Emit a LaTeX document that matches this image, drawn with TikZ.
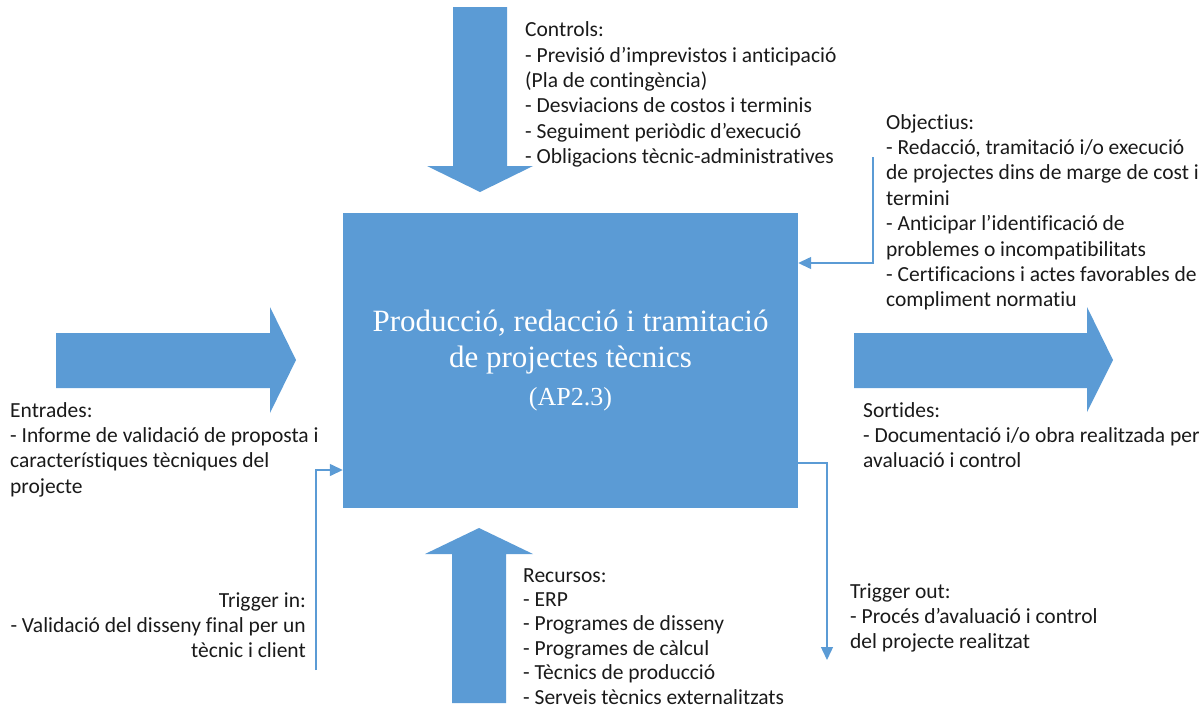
\documentclass[tikz,border=0pt]{standalone}
\usepackage{fontspec}
\setmainfont{Carlito}[Ligatures=NoCommon]
\newfontfamily\titlefont{Liberation Serif}
\usetikzlibrary{arrows.meta}
\definecolor{offblue}{HTML}{5B9BD5}
\definecolor{ink}{HTML}{1A1A1A}
\begin{document}
\begin{tikzpicture}[x=1pt,y=-1pt,
  blockarrow/.style={fill=offblue,draw=none},
  label/.style={inner sep=0pt,text=ink,align=left,anchor=base west,
    font=\fontsize{21.5}{25.4}\selectfont},
  link/.style={draw=offblue,line width=1.4pt,
    -{Triangle[length=13pt,width=12pt]}}]
\useasboundingbox (0,0) rectangle (1203,710);

% central activity box
\node (main) [fill=offblue,draw=none,minimum width=455pt,minimum height=295pt,
  inner sep=0pt,text=white,align=center,
  font=\titlefont\fontsize{31}{36}\selectfont] at (570.5,360.5)
  {Producció, redacció i tramitació\\de projectes tècnics\\[2pt]
   {\fontsize{26}{30}\selectfont (AP2.3)}};

% block arrows: controls (down), resources (up), inputs and outputs (right)
\fill[blockarrow] (453,7) -- (507,7) -- (507,166) -- (533,166) -- (480,192)
  -- (427,166) -- (453,166) -- cycle;
\fill[blockarrow] (452,703) -- (506,703) -- (506,554) -- (533,554) -- (479,528)
  -- (425,554) -- (452,554) -- cycle;
\fill[blockarrow] (56,333) -- (270,333) -- (270,307) -- (296,360) -- (270,413)
  -- (270,388) -- (56,388) -- cycle;
\fill[blockarrow] (854,333) -- (1087,333) -- (1087,307) -- (1113,360)
  -- (1087,412) -- (1087,388) -- (854,388) -- cycle;

% text blocks (placed by the baseline of their last line)
\node (controls) [label] at (525,163.7) {Controls:\\
- Previsió d’imprevistos i anticipació\\
(Pla de contingència)\\
- Desviacions de costos i terminis\\
- Seguiment periòdic d’execució\\
- Obligacions tècnic-administratives};

\node (objectius) [label] at (886,306.8) {Objectius:\\
- Redacció, tramitació i/o execució\\
de projectes dins de marge de cost i\\
termini\\
- Anticipar l’identificació de\\
problemes o incompatibilitats\\
- Certificacions i actes favorables de\\
compliment normatiu};

\node (entrades) [label] at (10,493.2) {Entrades:\\
- Informe de validació de proposta i\\
característiques tècniques del\\
projecte};

\node (sortides) [label] at (863,467.8) {Sortides:\\
- Documentació i/o obra realitzada per\\
avaluació i control};

\node (trigin) [label,align=right,anchor=base east] at (306,657.8) {Trigger in:\\
- Validació del disseny final per un\\
tècnic i client};

\node (trigout) [label] at (850,648.8) {Trigger out:\\
- Procés d’avaluació i control\\
del projecte realitzat};

\node (recursos) [label,font=\fontsize{21.5}{24.4}\selectfont] at (523,704) {Recursos:\\
- ERP\\
- Programes de disseny\\
- Programes de càlcul\\
- Tècnics de producció\\
- Serveis tècnics externalitzats};

% thin trigger / objective connectors
\coordinate (objtop) at (873,157);
\coordinate (tintail) at (316,670);
\coordinate (touttip) at (827,660);
\draw[link] (objtop) |- (main.east |- 0,263);
\draw[link] (tintail) |- (main.west |- 0,470);
\draw[link] (main.east |- 0,463) -| (touttip);
\end{tikzpicture}
\end{document}
